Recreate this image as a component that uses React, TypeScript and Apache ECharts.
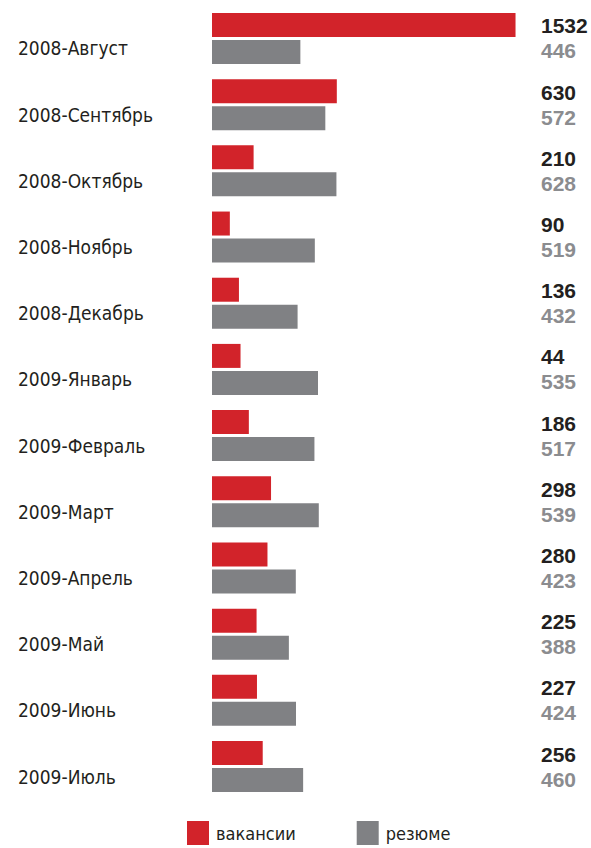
import React, { useEffect, useRef } from "react";
import * as echarts from "echarts";

const categories = [
  "2008-Август",
  "2008-Сентябрь",
  "2008-Октябрь",
  "2008-Ноябрь",
  "2008-Декабрь",
  "2009-Январь",
  "2009-Февраль",
  "2009-Март",
  "2009-Апрель",
  "2009-Май",
  "2009-Июнь",
  "2009-Июль",
];

// bar lengths as drawn (the January bar is drawn at ~144 though its label reads 44)
const vacancyValues = [1532, 630, 210, 90, 136, 144, 186, 298, 280, 225, 227, 256];
const resumeValues = [446, 572, 628, 519, 432, 535, 517, 539, 423, 388, 424, 460];

// printed numbers on the right
const vacancyLabels = ["1532", "630", "210", "90", "136", "44", "186", "298", "280", "225", "227", "256"];
const resumeLabels = ["446", "572", "628", "519", "432", "535", "517", "539", "423", "388", "424", "460"];

const seriesNames = ["вакансии", "резюме"];

const RED = "#d2232a";
const GRAY = "#808184";
const FONT = "'DejaVu Sans Condensed', 'Liberation Sans Narrow', 'Roboto', sans-serif";
const NUM_FONT = "'Liberation Sans', Arial, 'Roboto', sans-serif";

export default function App() {
  const ref = useRef<HTMLDivElement>(null);
  useEffect(() => {
    if (!ref.current) return;
    const chart = echarts.init(ref.current, undefined, { renderer: "svg" });
    chart.setOption({
      animation: false,
      backgroundColor: "#ffffff",
      textStyle: { fontFamily: FONT },
      grid: {
        left: 212,
        top: 5.4,
        height: 794.2,
        width: 317,
        containLabel: false,
        outerBoundsMode: "none",
      },
      legend: {
        data: seriesNames,
        left: 187,
        top: 821,
        padding: 0,
        icon: "rect",
        itemWidth: 22,
        itemHeight: 24,
        itemGap: 61,
        textStyle: { fontFamily: FONT, fontSize: 18, color: "#231f20", padding: [4, 0, 0, 2] },
      },
      xAxis: { type: "value", min: 0, max: 1600, show: false },
      yAxis: [
        {
          type: "category",
          inverse: true,
          data: categories,
          axisLine: { show: false },
          axisTick: { show: false },
          splitLine: { show: false },
          axisLabel: {
            align: "left",
            verticalAlign: "top",
            lineHeight: 20,
            margin: 194,
            fontFamily: FONT,
            fontSize: 19,
            color: "#231f20",
          },
        },
        {
          type: "category",
          inverse: true,
          position: "right",
          data: categories,
          axisLine: { show: false },
          axisTick: { show: false },
          splitLine: { show: false },
          axisLabel: {
            align: "left",
            margin: 12,
            formatter: (_v: string, i: number) => `{v|${vacancyLabels[i]}}\n{r|${resumeLabels[i]}}`,
            rich: {
              v: { fontFamily: NUM_FONT, fontWeight: "bold", fontSize: 21, lineHeight: 25, color: "#231f20" },
              r: { fontFamily: NUM_FONT, fontWeight: "bold", fontSize: 21, lineHeight: 25, color: "#8b8c8f" },
            },
          },
        },
      ],
      series: [
        {
          name: seriesNames[0],
          type: "bar",
          yAxisIndex: 0,
          data: vacancyValues,
          barWidth: 24,
          barGap: "12.5%",
          itemStyle: { color: RED },
        },
        {
          name: seriesNames[1],
          type: "bar",
          yAxisIndex: 0,
          data: resumeValues,
          barWidth: 24,
          barGap: "12.5%",
          itemStyle: { color: GRAY },
        },
      ],
    });
    return () => chart.dispose();
  }, []);
  return <div ref={ref} style={{ position: "absolute", left: 0, top: 0, width: 591, height: 848 }} />;
}
